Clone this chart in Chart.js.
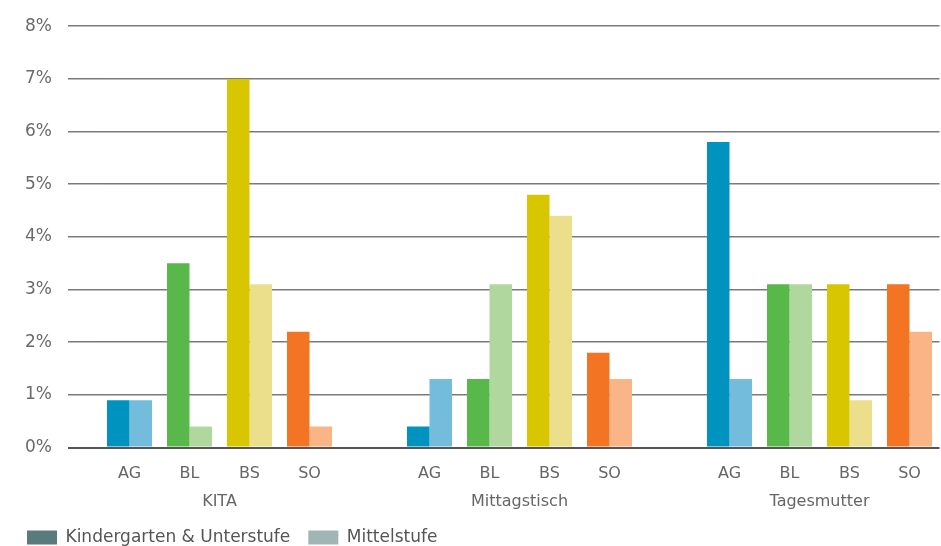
<!DOCTYPE html>
<html>
<head>
<meta charset="utf-8">
<script src="https://cdn.jsdelivr.net/npm/chart.js@4"></script>
<style>
  html, body { margin: 0; padding: 0; overflow: hidden; background: #fff; }
  #wrap { width: 941px; height: 556px; }
</style>
</head>
<body>
<div id="wrap"><canvas id="chart" width="941" height="556"></canvas></div>
<script>
// groups and cantons
const groups = ["KITA", "Mittagstisch", "Tagesmutter"];
const cantons = ["AG", "BL", "BS", "SO"];
// values in % (AG, BL, BS, SO) per group
const kigaUnterstufe = [
  [0.9, 3.5, 7.0, 2.2],
  [0.4, 1.3, 4.8, 1.8],
  [5.8, 3.1, 3.1, 3.1],
];
const mittelstufe = [
  [0.9, 0.4, 3.1, 0.4],
  [1.3, 3.1, 4.4, 1.3],
  [1.3, 3.1, 0.9, 2.2],
];
const yTicks = [0, 1, 2, 3, 4, 5, 6, 7, 8];
const seriesNames = ["Kindergarten & Unterstufe", "Mittelstufe"];

const darkColors = ["#0093c0", "#58b84a", "#d7c600", "#f37423"];
const lightColors = ["#74bcdc", "#b0d89e", "#ebdf8c", "#f9b586"];
const legendColors = ["#5a7b7b", "#a0b6b4"];
const font = "'DejaVu Sans', sans-serif";

// build slots: 4 cantons per group, one empty slot between groups
let labels = [];
let dataDark = [];
let dataLight = [];
let colDark = [];
let colLight = [];
groups.forEach((g, gi) => {
  if (gi > 0) {
    labels.push("");
    dataDark.push(null);
    dataLight.push(null);
    colDark.push("#fff");
    colLight.push("#fff");
  }
  cantons.forEach((c, ci) => {
    labels.push(c);
    dataDark.push(kigaUnterstufe[gi][ci]);
    dataLight.push(mittelstufe[gi][ci]);
    colDark.push(darkColors[ci]);
    colLight.push(lightColors[ci]);
  });
});
const slots = labels.length;
const groupStep = cantons.length + 1;
const groupMid = (cantons.length - 1) / 2;

const ctx = document.getElementById("chart").getContext("2d");
const myChart = new Chart(ctx, {
  type: "bar",
  data: {
    labels: labels,
    datasets: [
      {
        label: seriesNames[0],
        data: dataDark,
        backgroundColor: colDark,
        borderWidth: 0,
        categoryPercentage: 0.75,
        barPercentage: 1,
      },
      {
        label: seriesNames[1],
        data: dataLight,
        backgroundColor: colLight,
        borderWidth: 0,
        categoryPercentage: 0.75,
        barPercentage: 1,
      },
    ],
  },
  options: {
    responsive: false,
    animation: false,
    layout: { padding: { left: 9, right: 1.5, top: 24, bottom: 0 } },
    scales: {
      x: {
        type: "category",
        afterFit: (scale) => {
          scale.height = 36.2;
        },
        grid: { display: false, drawTicks: false },
        border: { display: false },
        ticks: {
          autoSkip: false,
          maxRotation: 0,
          padding: 17,
          color: "#666",
          font: { family: font, size: 16 },
        },
      },
      x2: {
        type: "linear",
        position: "bottom",
        weight: 1,
        offset: false,
        bounds: "data",
        min: -0.5,
        max: slots - 0.5,
        afterFit: (scale) => {
          scale.height = 27.2;
        },
        grid: { display: false, drawTicks: false, offset: false },
        border: { display: false },
        afterBuildTicks: (axis) => {
          axis.ticks = groups.map((g, i) => ({ value: i * groupStep + groupMid }));
        },
        ticks: {
          autoSkip: false,
          maxRotation: 0,
          padding: 8,
          color: "#666",
          font: { family: font, size: 16 },
          callback: (v) => groups[Math.round((v - groupMid) / groupStep)],
        },
      },
      y: {
        min: yTicks[0],
        max: yTicks[yTicks.length - 1],
        afterFit: (scale) => {
          scale.width = 90.5;
        },
        afterBuildTicks: (axis) => {
          axis.ticks = yTicks.map((v) => ({ value: v }));
        },
        grid: {
          color: (c) => (c.tick && c.tick.value === 0 ? "#555" : "#7a7a7a"),
          lineWidth: (c) => (c.tick && c.tick.value === 0 ? 2 : 1.5),
          tickLength: 31.5,
        },
        border: { display: false },
        ticks: {
          padding: 16,
          color: "#6a6a6a",
          font: { family: font, size: 17 },
          callback: (v) => v + "%",
        },
      },
    },
    plugins: {
      tooltip: { enabled: false },
      legend: {
        position: "bottom",
        align: "start",
        onClick: null,
        labels: {
          boxWidth: 30,
          boxHeight: 14,
          padding: 18,
          color: "#555",
          font: { family: font, size: 17, lineHeight: 1.2 },
          generateLabels: () =>
            seriesNames.map((n, i) => ({
              text: n,
              fillStyle: legendColors[i],
              strokeStyle: legendColors[i],
              fontColor: "#555",
              lineWidth: 0,
              datasetIndex: i,
            })),
        },
      },
    },
  },
});
</script>
</body>
</html>
